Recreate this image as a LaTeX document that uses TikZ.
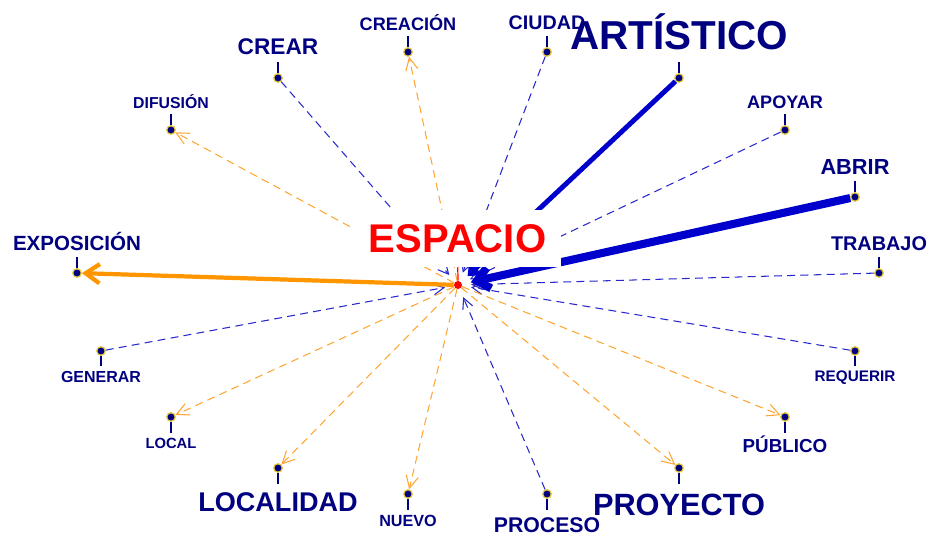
\documentclass[tikz,border=0pt]{standalone}
\usepackage{fontspec}
\setmainfont{Liberation Sans}
\usetikzlibrary{arrows.meta}
\definecolor{navy}{RGB}{0,0,128}
\definecolor{dotyellow}{RGB}{230,200,60}
\definecolor{lineblue}{RGB}{40,40,205}
\definecolor{thickblue}{RGB}{0,0,204}
\definecolor{lineorange}{RGB}{255,165,50}
\definecolor{thickorange}{RGB}{255,150,0}
\begin{document}
\begin{tikzpicture}[x=0.02cm, y=-0.02cm,
	dot/.style={circle, fill=navy, draw=dotyellow, line width=0.7pt, inner sep=0pt, minimum size=0.17cm},
	lbl/.style={font=\fontsize{#1}{#1}\selectfont\bfseries, text=navy, inner sep=0.3*#1pt, text height=0.72*#1pt, text depth=0pt},
	stick/.style={navy, line width=0.7pt},
	inarrow/.style={draw=lineblue, line width=0.6pt, dash pattern=on 4.5pt off 3pt, -{Straight Barb[length=6pt,width=6pt]}, shorten >=5pt},
	outarrow/.style={draw=lineorange, line width=0.6pt, dash pattern=on 4.5pt off 3pt, -{Straight Barb[length=7pt,width=7pt]}},
	inthick/.style={draw=thickblue, line width=#1, -{Straight Barb[length=7pt,width=12pt]}, shorten >=5pt}]
	\useasboundingbox (0,0) rectangle (927,536);
	
	% Center
	\node[circle, fill=red, inner sep=0pt, minimum size=0.16cm] (espacio) at (458,285) {};
	
	% Words above
	\node[dot] (exposicion) at (77,273) {};
	\node[dot] (difusion) at (171,130) {};
	\node[dot] (crear) at (278,78) {};
	\node[dot] (creacion) at (408,52) {};
	\node[dot] (ciudad) at (547,52) {};
	\node[dot] (artistico) at (679,78) {};
	\node[dot] (apoyar) at (785,130) {};
	\node[dot] (abrir) at (855,197) {};
	\node[dot] (trabajo) at (879,273) {};
	
	% Words below
	\node[dot] (requerir) at (855,351) {};
	\node[dot] (publico) at (785,417) {};
	\node[dot] (proyecto) at (679,468) {};
	\node[dot] (proceso) at (547,494) {};
	\node[dot] (nuevo) at (408,494) {};
	\node[dot] (localidad) at (278,468) {};
	\node[dot] (local) at (171,417) {};
	\node[dot] (generar) at (101,351) {};
	
	% Links into the center
	\draw[inarrow] (crear) -- (espacio);
	\draw[inarrow] (ciudad) -- (espacio);
	\draw[inarrow] (apoyar) -- (espacio);
	\draw[inarrow] (trabajo) -- (espacio);
	\draw[inarrow] (requerir) -- (espacio);
	\draw[inarrow] (proceso) -- (espacio);
	\draw[inarrow] (generar) -- (espacio);
	\draw[inthick=2.8pt] (artistico) -- (espacio);
	\draw[inthick=4.6pt] (abrir) -- (espacio);
	
	% Links out of the center
	\draw[outarrow] (espacio) -- (difusion);
	\draw[outarrow] (espacio) -- (creacion);
	\draw[outarrow] (espacio) -- (publico);
	\draw[outarrow] (espacio) -- (proyecto);
	\draw[outarrow] (espacio) -- (nuevo);
	\draw[outarrow] (espacio) -- (localidad);
	\draw[outarrow] (espacio) -- (local);
	\draw[thickorange, line width=2.4pt, -{Straight Barb[length=8pt,width=11pt]}] (espacio) -- (exposicion);
	
	% Center label
	\node[fill=white, text=red, font=\fontsize{22.8}{22.8}\selectfont\bfseries, inner xsep=0.3cm, inner ysep=0.28cm, text height=16.4pt, text depth=0pt] (espaciolbl) at (457.5,238.5) {ESPACIO};
	\draw[red, line width=0.7pt] (espacio) -- (espaciolbl);
	
	% Labels above
	\node[lbl=11.7, anchor=south] (exposicionlbl) at (77,257) {EXPOSICIÓN};
	\node[lbl=9.0, anchor=south] (difusionlbl) at (171,114) {DIFUSIÓN};
	\node[lbl=12.9, anchor=south] (crearlbl) at (278,62) {CREAR};
	\node[lbl=10.3, anchor=south] (creacionlbl) at (408,36) {CREACIÓN};
	\node[lbl=11.2, anchor=south] (ciudadlbl) at (547,36) {CIUDAD};
	\node[lbl=23.0, anchor=south] (artisticolbl) at (679,62) {ARTÍSTICO};
	\node[lbl=10.3, anchor=south] (apoyarlbl) at (785,114) {APOYAR};
	\node[lbl=12.4, anchor=south] (abrirlbl) at (855,181) {ABRIR};
	\node[lbl=11.3, anchor=south] (trabajolbl) at (879,257) {TRABAJO};
	\foreach \w in {exposicion,difusion,crear,creacion,ciudad,artistico,apoyar,abrir,trabajo}
		\draw[stick] (\w) -- (\w lbl);
	
	% Labels below
	\node[lbl=8.7, anchor=north] (requerirlbl) at (855,366) {REQUERIR};
	\node[lbl=10.7, anchor=north] (publicolbl) at (785,433) {PÚBLICO};
	\node[lbl=17.5, anchor=north] (proyectolbl) at (679,484) {PROYECTO};
	\node[lbl=12.1, anchor=north] (procesolbl) at (547,510) {PROCESO};
	\node[lbl=9.2, anchor=north] (nuevolbl) at (408,510) {NUEVO};
	\node[lbl=15.4, anchor=north] (localidadlbl) at (278,484) {LOCALIDAD};
	\node[lbl=8.4, anchor=north] (locallbl) at (171,433) {LOCAL};
	\node[lbl=9.1, anchor=north] (generarlbl) at (101,366) {GENERAR};
	\foreach \w in {requerir,publico,proyecto,proceso,nuevo,localidad,local,generar}
		\draw[stick] (\w) -- (\w lbl);
	
\end{tikzpicture}
\end{document}
